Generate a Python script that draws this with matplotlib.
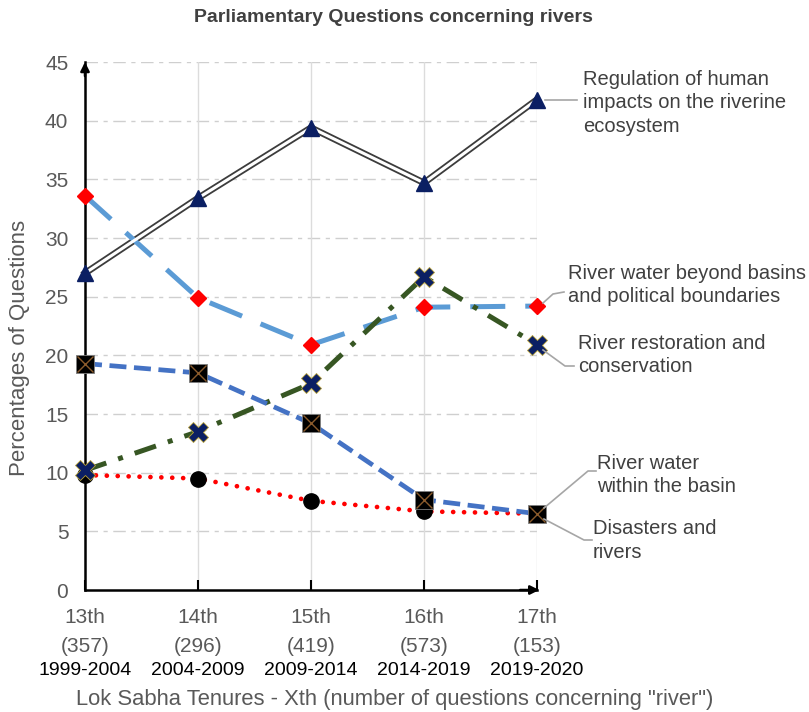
import matplotlib
matplotlib.use("Agg")
import matplotlib.pyplot as plt
from matplotlib import transforms
from matplotlib.lines import Line2D

FONT = ['Liberation Sans', 'DejaVu Sans']
plt.rcParams['font.family'] = FONT

tenures = ["13th", "14th", "15th", "16th", "17th"]
counts = ["(357)", "(296)", "(419)", "(573)", "(153)"]
years = ["1999-2004", "2004-2009", "2009-2014", "2014-2019", "2019-2020"]

regulation = [27.0, 33.4, 39.4, 34.7, 41.8]
beyond_basins = [33.6, 24.9, 20.9, 24.1, 24.2]
restoration = [10.2, 13.5, 17.6, 26.7, 20.9]
within_basin = [19.3, 18.5, 14.2, 7.7, 6.5]
disasters = [9.8, 9.5, 7.6, 6.7, 6.5]

label_reg = "Regulation of human\nimpacts on the riverine\necosystem"
label_beyond = "River water beyond basins\nand political boundaries"
label_rest = "River restoration and\nconservation"
label_within = "River water\nwithin the basin"
label_dis = "Disasters and\nrivers"

W, H = 809, 712
GRAY = '#595959'
TXT = '#404040'
fig = plt.figure(figsize=(W/100, H/100), dpi=100)
ax = fig.add_axes([85/W, 1-590/H, (537-85)/W, (590-62)/H])
x = list(range(len(tenures)))

ax.set_xlim(0, 4)
ax.set_ylim(0, 45)
for s in ['top', 'right']:
    ax.spines[s].set_visible(False)
for s in ['left', 'bottom']:
    ax.spines[s].set_color('black')
    ax.spines[s].set_linewidth(1.8)
    ax.spines[s].set_zorder(2.5)

# gridlines
for yv in range(5, 46, 5):
    ax.axhline(yv, color='#cfcfcf', lw=1, ls=(0, (9, 4, 3, 4)), zorder=0)
for xv in x[1:]:
    ax.axvline(xv, color='#dcdcdc', lw=1, zorder=0)

# axis arrows
ax.annotate('', xy=(0, 45), xytext=(0, 43.8), xycoords='data',
            arrowprops=dict(arrowstyle='-|>', color='black', lw=1.8, mutation_scale=13,
                            shrinkA=0, shrinkB=0), annotation_clip=False)
ax.annotate('', xy=(4.02, 0), xytext=(3.85, 0), xycoords='data',
            arrowprops=dict(arrowstyle='-|>', color='black', lw=1.8, mutation_scale=13,
                            shrinkA=0, shrinkB=0), annotation_clip=False)

# series
ax.plot(x, regulation, color='#3c3c3c', lw=4.8, zorder=3, solid_joinstyle='miter', clip_on=False)
ax.plot(x, regulation, color='white', lw=2.2, zorder=3.1, solid_joinstyle='miter', clip_on=False)
ax.plot(x, regulation, ls='none', marker='^', ms=12, color='#0b1f63', zorder=4, clip_on=False)

ax.plot(x, beyond_basins, color='#5b9bd5', lw=3.6, ls=(0, (7, 4)), zorder=3, clip_on=False)
ax.plot(x, beyond_basins, ls='none', marker='D', ms=8.5, color='#ff0000', zorder=4, clip_on=False)

ax.plot(x, restoration, color='#375623', lw=3.6, ls=(0, (4.5, 2.5, 1, 2.5)), zorder=3, clip_on=False)
ax.plot(x, restoration, ls='none', marker='X', ms=15, color='#0b1f63', mec='#b8a23a', mew=0.6,
        zorder=4.5, clip_on=False)

ax.plot(x, within_basin, color='#4472c4', lw=3.4, ls=(0, (3.6, 1.6)), zorder=3, clip_on=False)
ax.plot(x, within_basin, ls='none', marker='s', ms=13.5, color='black', mec='#7f7f7f', mew=0.6,
        zorder=4, clip_on=False)
ax.plot(x, within_basin, ls='none', marker='x', ms=11, color='#8a5a2b', mew=1, zorder=4.2, clip_on=False)

ax.plot(x, disasters, color='#ff0000', lw=3.4, ls=(0, (0.01, 2.3)), dash_capstyle='round',
        zorder=2.9, clip_on=False)
ax.plot(x, disasters, ls='none', marker='o', ms=11, color='black', zorder=3.9, clip_on=False)

# y ticks
ax.set_yticks(range(0, 46, 5))
ax.set_yticklabels([str(v) for v in range(0, 46, 5)], fontsize=15, color=GRAY)
ax.tick_params(axis='y', length=0, pad=12)

# x ticks (marks inside) with labels drawn as rows
ax.set_xticks(x)
ax.set_xticklabels([""] * len(x))
ax.tick_params(axis='x', direction='in', length=7, width=1.5, colors='black')
bt = transforms.blended_transform_factory(ax.transData, fig.transFigure)
for xi, t, c, yr in zip(x, tenures, counts, years):
    ax.text(xi, 1-623/H, t, transform=bt, ha='center', va='baseline', fontsize=15, color=GRAY)
    ax.text(xi, 1-652/H, c, transform=bt, ha='center', va='baseline', fontsize=15, color=GRAY)
    ax.text(xi, 1-675/H, yr, transform=bt, ha='center', va='baseline', fontsize=14, color='black')

fig.text(20/W, 1-348/H, "Percentages of Questions", rotation=90, ha='center', va='center',
         fontsize=16, color=GRAY)
fig.text(395/W, 1-705/H, 'Lok Sabha Tenures - Xth (number of questions concerning "river")',
         ha='center', va='baseline', fontsize=15.8, color=GRAY)
fig.text(393/W, 1-18/H, "Parliamentary Questions concerning rivers", ha='center', va='center',
         fontsize=14, fontweight='bold', color=TXT)

# annotations with leader lines (figure pixel coordinates, origin top-left)
def leader(points):
    xs = [p[0]/W for p in points]
    ys = [1-p[1]/H for p in points]
    fig.add_artist(Line2D(xs, ys, color='#a6a6a6', lw=1.2, transform=fig.transFigure, zorder=1))

def label(txt, left, top):
    fig.text(left/W, 1-top/H, txt, ha='left', va='top', fontsize=14.5, color=TXT, linespacing=1.3)

leader([(545, 100), (577, 100)])
label(label_reg, 583, 70)
leader([(543, 303), (553, 294), (564, 292)])
label(label_beyond, 568, 264)
leader([(543, 350), (565, 366), (574, 366)])
label(label_rest, 578, 334)
leader([(544, 508), (588, 471), (596, 471)])
label(label_within, 597, 454)
leader([(544, 519), (584, 540), (592, 540)])
label(label_dis, 593, 519)

fig.savefig("out.png", dpi=100)
